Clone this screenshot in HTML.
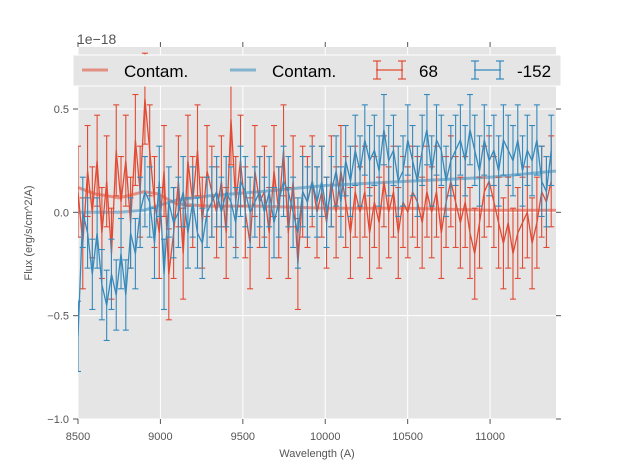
<!DOCTYPE html>
<html><head><meta charset="utf-8"><style>
html,body{margin:0;padding:0;background:#fff;}
svg{display:block;font-family:"Liberation Sans","DejaVu Sans",sans-serif;}
</style></head><body>
<svg id="chart" width="617" height="467" viewBox="0 0 617 467">
<rect x="78" y="47" width="478" height="372" fill="#e5e5e5"/>
<g id="grid"></g>
<g id="ticks"></g>
<g id="series"></g>
<text x="77" y="44" font-size="14" fill="#555">1e−18</text>
<text x="317" y="457" font-size="11" fill="#555" text-anchor="middle">Wavelength (A)</text>
<text transform="translate(32,233) rotate(-90)" font-size="11" fill="#555" text-anchor="middle">Flux (erg/s/cm^2/A)</text>
<g>
<rect x="73" y="55" width="488" height="31" fill="#e5e5e5" stroke="#fff" stroke-width="1"/>
<g><line x1="82" y1="70" x2="108" y2="70" stroke="#E24A33" stroke-opacity="0.55" stroke-width="3"/><text x="124" y="77" font-size="17" fill="#000">Contam.</text></g>
<g><line x1="230" y1="70" x2="256" y2="70" stroke="#348ABD" stroke-opacity="0.55" stroke-width="3"/><text x="272" y="77" font-size="17" fill="#000">Contam.</text></g>
<g stroke="#E24A33" stroke-width="1.2"><line x1="376" y1="70" x2="403" y2="70"/><line x1="377" y1="61" x2="377" y2="79"/><line x1="402" y1="61" x2="402" y2="79"/><line x1="373" y1="61" x2="381" y2="61"/><line x1="373" y1="79" x2="381" y2="79"/><line x1="398" y1="61" x2="406" y2="61"/><line x1="398" y1="79" x2="406" y2="79"/><text x="419" y="77" font-size="17" fill="#000" stroke="none">68</text></g>
<g stroke="#348ABD" stroke-width="1.2"><line x1="474" y1="70" x2="501" y2="70"/><line x1="475" y1="61" x2="475" y2="79"/><line x1="500" y1="61" x2="500" y2="79"/><line x1="471" y1="61" x2="479" y2="61"/><line x1="471" y1="79" x2="479" y2="79"/><line x1="496" y1="61" x2="504" y2="61"/><line x1="496" y1="79" x2="504" y2="79"/><text x="517" y="77" font-size="17" fill="#000" stroke="none">-152</text></g>
</g>
</svg>
<script>
const xTicks=[8500,9000,9500,10000,10500,11000];
const yTicks=[-1.0,-0.5,0.0,0.5];
const yTickLabels=["−1.0","−0.5","0.0","0.5"];
const wlStart=8500, wlStep=29;
const redFlux=[0.1,-0.15,0.2,0.0,0.25,-0.1,0.15,-0.2,0.3,0.05,
0.25,-0.05,0.35,0.1,0.55,0.3,0.05,-0.1,0.2,-0.3,
-0.1,0.15,-0.2,0.25,0.05,0.3,-0.05,0.2,0.1,0.0,
0.15,-0.1,0.45,0.05,0.25,0.0,-0.15,0.2,0.05,0.1,
-0.1,0.2,0.0,0.3,-0.1,0.15,-0.25,0.1,0.05,0.15,
0.0,0.1,-0.05,0.15,0.0,0.2,0.05,-0.1,0.1,0.0,
0.1,-0.1,0.05,-0.05,0.15,0.0,0.1,-0.1,0.05,0.0,
0.1,0.05,-0.05,0.1,0.0,0.1,-0.1,0.05,0.15,0.05,
-0.05,0.05,-0.1,-0.2,-0.05,0.1,0.15,0.05,-0.05,-0.15,
-0.05,-0.2,-0.1,-0.05,0.0,-0.15,-0.05,0.1,0.05,0.15];
const blueFlux=[-0.6,0.0,-0.1,-0.3,-0.1,-0.35,-0.45,-0.3,-0.4,-0.2,
-0.4,-0.1,-0.2,0.0,0.1,0.05,-0.15,0.15,-0.3,0.05,
-0.05,0.0,0.1,-0.1,0.05,-0.1,-0.15,0.0,0.05,0.1,
0.0,0.1,0.05,-0.05,0.15,0.1,0.0,0.05,0.1,0.0,
0.1,-0.05,0.05,0.15,0.1,0.0,-0.1,0.1,0.05,0.15,
0.05,0.15,0.0,0.1,0.2,0.05,0.25,0.15,0.3,0.2,
0.35,0.25,0.3,0.2,0.4,0.25,0.3,0.15,0.2,0.35,
0.25,0.15,0.3,0.4,0.2,0.35,0.3,0.15,0.25,0.3,
0.35,0.25,0.4,0.3,0.2,0.35,0.25,0.3,0.2,0.35,
0.3,0.25,0.35,0.2,0.3,0.25,0.35,0.15,0.1,0.3];
const redErr=0.22, blueErr=0.17;
const contamWl=[8500,8600,8750,8900,8980,9100,9300,9600,10000,10500,11000,11400];
const redContam=[0.12,0.09,0.07,0.1,0.09,0.04,0.03,0.03,0.02,0.02,0.01,0.01];
const blueContam=[0.0,0.0,0.0,0.01,0.03,0.06,0.08,0.1,0.13,0.15,0.17,0.2];

const NS="http://www.w3.org/2000/svg";
const X0=78,X1=556,Y0=47,Y1=419, xmin=8500,xmax=11400,ymin=-1.0,ymax=0.8;
function sx(v){return X0+(v-xmin)/(xmax-xmin)*(X1-X0);}
function sy(v){return Y1-(v-ymin)/(ymax-ymin)*(Y1-Y0);}
function mk(tag,attrs,parent){const e=document.createElementNS(NS,tag);for(const k in attrs)e.setAttribute(k,attrs[k]);parent.appendChild(e);return e;}
const grid=document.getElementById('grid'),ticks=document.getElementById('ticks'),ser=document.getElementById('series');
xTicks.forEach(t=>{const x=sx(t);
 const g=mk('line',{x1:x,y1:Y0,x2:x,y2:Y1,stroke:'#fff','stroke-width':1},grid);
 
 
 mk('line',{x1:x,y1:Y1,x2:x,y2:Y1+5,stroke:'#555'},ticks);
 mk('line',{x1:x,y1:Y0,x2:x,y2:Y0-5,stroke:'#555'},ticks);
 const l=mk('text',{x:x,y:440,'font-size':11,fill:'#555','text-anchor':'middle'},ticks);
 l.textContent=t;
 
 
});
yTicks.forEach((t,i)=>{const y=sy(t);
 const g=mk('line',{x1:X0,y1:y,x2:X1,y2:y,stroke:'#fff','stroke-width':1},grid);
 
 
 mk('line',{x1:X0-5,y1:y,x2:X0,y2:y,stroke:'#555'},ticks);
 mk('line',{x1:X1,y1:y,x2:X1+5,y2:y,stroke:'#555'},ticks);
 const l=mk('text',{x:X0-9,y:y+4,'font-size':11,fill:'#555','text-anchor':'end'},ticks);
 l.textContent=yTickLabels[i];
 
 
});
const clip=mk('clipPath',{id:'pc'},document.getElementById('chart'));
mk('rect',{x:X0,y:Y0-2,width:X1-X0,height:Y1-Y0+2},clip);
ser.setAttribute('clip-path','url(#pc)');
function errSeries(vals,err,color,name){
 const g=mk('g',{stroke:color,'stroke-width':1.1,fill:'none'},ser);
 
 
 let d='';
 vals.forEach((v,i)=>{const x=sx(wlStart+i*wlStep),y=sy(v),yt=sy(v+err),yb=sy(v-err);
  mk('line',{x1:x,y1:yt,x2:x,y2:yb},g);
  mk('line',{x1:x-3,y1:yt,x2:x+3,y2:yt},g);
  mk('line',{x1:x-3,y1:yb,x2:x+3,y2:yb},g);
  d+=(i?'L':'M')+x.toFixed(1)+','+y.toFixed(1);});
 const p=mk('path',{d:d,'stroke-width':1.3},g);
 
 
}
function contam(vals,color,name){
 let d='';vals.forEach((v,i)=>{d+=(i?'L':'M')+sx(contamWl[i]).toFixed(1)+','+sy(v).toFixed(1);});
 const p=mk('path',{d:d,stroke:color,'stroke-opacity':0.55,'stroke-width':3,fill:'none','stroke-linejoin':'round'},ser);
 
 
}
contam(redContam,'#E24A33','red-contam-line');
contam(blueContam,'#348ABD','blue-contam-line');
errSeries(redFlux,redErr,'#E24A33','series-68');
errSeries(blueFlux,blueErr,'#348ABD','series-minus152');
</script>
</body></html>
